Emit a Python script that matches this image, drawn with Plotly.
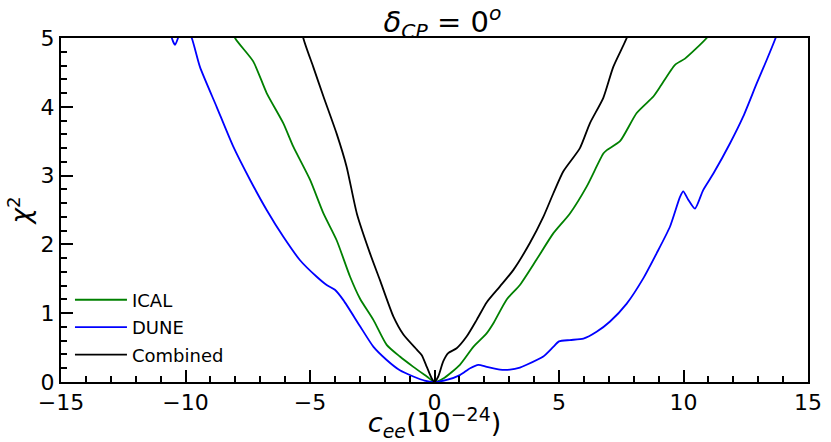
import plotly.graph_objects as go

# DUNE
dune_x = [-10.7, -10.55, -10.42, -10.3, -10.1, -9.75, -9.42, -8.75, -8.08, -7.41, -6.74, -6.07,
          -5.40, -4.73, -4.33, -4.0, -3.66, -2.99, -2.45, -1.92, -1.39, -0.85, -0.4, 0.0,
          0.49, 1.02, 1.43, 1.76, 2.10, 2.63, 3.03, 3.43, 3.70, 4.37, 4.77, 5.0, 5.44, 5.98,
          6.51, 7.05, 7.72, 8.39, 8.92, 9.46, 9.86, 9.99, 10.19, 10.46, 10.79, 11.20, 11.87,
          12.40, 12.94, 13.34, 13.70, 14.0]
dune_y = [5.3, 5.0, 4.9, 5.0, 5.25, 5.0, 4.58, 4.0, 3.42, 2.94, 2.5, 2.11,
          1.77, 1.53, 1.41, 1.34, 1.19, 0.81, 0.51, 0.32, 0.17, 0.08, 0.02, 0.0,
          0.03, 0.10, 0.20, 0.25, 0.22, 0.18, 0.18, 0.21, 0.25, 0.37, 0.51, 0.59, 0.61, 0.63,
          0.73, 0.88, 1.14, 1.51, 1.87, 2.26, 2.69, 2.77, 2.65, 2.52, 2.79, 3.03, 3.47,
          3.86, 4.34, 4.68, 5.0, 5.3]

# ICAL
ical_x = [-8.3, -8.01, -7.28, -6.74, -6.07, -5.67, -5.0, -4.46, -3.93, -3.39, -2.99, -2.45,
          -1.92, -1.39, -0.85, -0.31, 0.0, 0.35, 1.02, 1.56, 2.10, 2.36, 2.90, 3.43, 4.10,
          4.77, 5.44, 6.11, 6.78, 6.92, 7.45, 8.12, 8.79, 9.06, 9.66, 10.06, 10.93, 11.3]
ical_y = [5.3, 5.0, 4.66, 4.2, 3.76, 3.42, 2.94, 2.45, 2.06, 1.53, 1.21, 0.90,
          0.54, 0.37, 0.22, 0.08, 0.0, 0.05, 0.25, 0.51, 0.71, 0.85, 1.20, 1.41, 1.78,
          2.16, 2.45, 2.84, 3.32, 3.37, 3.50, 3.91, 4.15, 4.29, 4.61, 4.70, 5.0, 5.2]

# Combined
comb_x = [-5.5, -5.27, -4.87, -4.46, -3.93, -3.53, -3.12, -2.59, -2.19, -1.65, -1.25, -0.71,
          -0.51, -0.31, -0.11, 0.0, 0.15, 0.35, 0.55, 0.89, 1.29, 1.69, 2.10, 2.63, 3.17,
          3.83, 4.37, 4.77, 5.17, 5.84, 6.24, 6.78, 7.18, 7.72, 8.0]
comb_y = [5.5, 5.0, 4.58, 4.15, 3.61, 3.13, 2.45, 1.87, 1.48, 0.95, 0.69, 0.47,
          0.39, 0.22, 0.05, 0.0, 0.08, 0.30, 0.42, 0.49, 0.66, 0.90, 1.16, 1.39, 1.63,
          2.02, 2.40, 2.74, 3.06, 3.40, 3.76, 4.13, 4.58, 5.0, 5.3]

x_ticks = [-15, -10, -5, 0, 5, 10, 15]
x_tick_labels = ["\u221215", "\u221210", "\u22125", "0", "5", "10", "15"]
y_ticks = [0, 1, 2, 3, 4, 5]

FONT = "DejaVu Sans"

fig = go.Figure()
fig.add_trace(go.Scatter(x=ical_x, y=ical_y, mode="lines", name="ICAL", legendgroup="a",
                         line=dict(color="#008000", width=1.8, shape="spline", smoothing=0.6)))
fig.add_trace(go.Scatter(x=dune_x, y=dune_y, mode="lines", name="DUNE", legendgroup="b",
                         line=dict(color="#0000ff", width=1.8, shape="spline", smoothing=0.6)))
fig.add_trace(go.Scatter(x=comb_x, y=comb_y, mode="lines", name="Combined", legendgroup="c",
                         line=dict(color="#000000", width=1.8, shape="spline", smoothing=0.6)))

fig.update_layout(
    width=831, height=442,
    margin=dict(l=61, r=23, t=38, b=60, autoexpand=False),
    paper_bgcolor="white", plot_bgcolor="white",
    font=dict(family=FONT, color="black"),
    title=dict(text="<i>δ</i><sub><i>CP</i></sub> = 0<sup><i>o</i></sup>",
               x=0.5325, xanchor="center", y=0.928, yanchor="bottom",
               font=dict(size=29, family=FONT)),
    legend=dict(x=0.012, y=0.292, xanchor="left", yanchor="top",
                bgcolor="rgba(255,255,255,0)", font=dict(size=18, family=FONT),
                tracegroupgap=1, itemwidth=52),
    showlegend=True,
)
fig.update_xaxes(
    range=[-15, 15], tickmode="array", tickvals=x_ticks, ticktext=x_tick_labels,
    ticks="inside", ticklen=12, tickwidth=1.5, tickcolor="black",
    minor=dict(dtick=1, ticks="inside", ticklen=6, tickwidth=1.5, tickcolor="black"),
    showline=True, linecolor="black", linewidth=2, mirror=True,
    showgrid=False, zeroline=False, automargin=False,
    tickfont=dict(size=22, family=FONT),
    title=dict(text="<i>c</i><sub><i>ee</i></sub>(10<sup>\u221224</sup>)",
               font=dict(size=27, family=FONT), standoff=0),
)
fig.update_yaxes(
    range=[0, 5], tickmode="array", tickvals=y_ticks,
    ticks="inside", ticklen=12, tickwidth=1.5, tickcolor="black",
    minor=dict(dtick=0.2, ticks="inside", ticklen=6, tickwidth=1.5, tickcolor="black"),
    showline=True, linecolor="black", linewidth=2, mirror=True,
    showgrid=False, zeroline=False, automargin=False,
    tickfont=dict(size=22, family=FONT),
    title=dict(text="<i>χ</i><sup>2</sup>", font=dict(size=26, family=FONT), standoff=2),
)

fig.write_html("out.html", config={"displayModeBar": False},
               post_script="document.body.style.margin='0';")
